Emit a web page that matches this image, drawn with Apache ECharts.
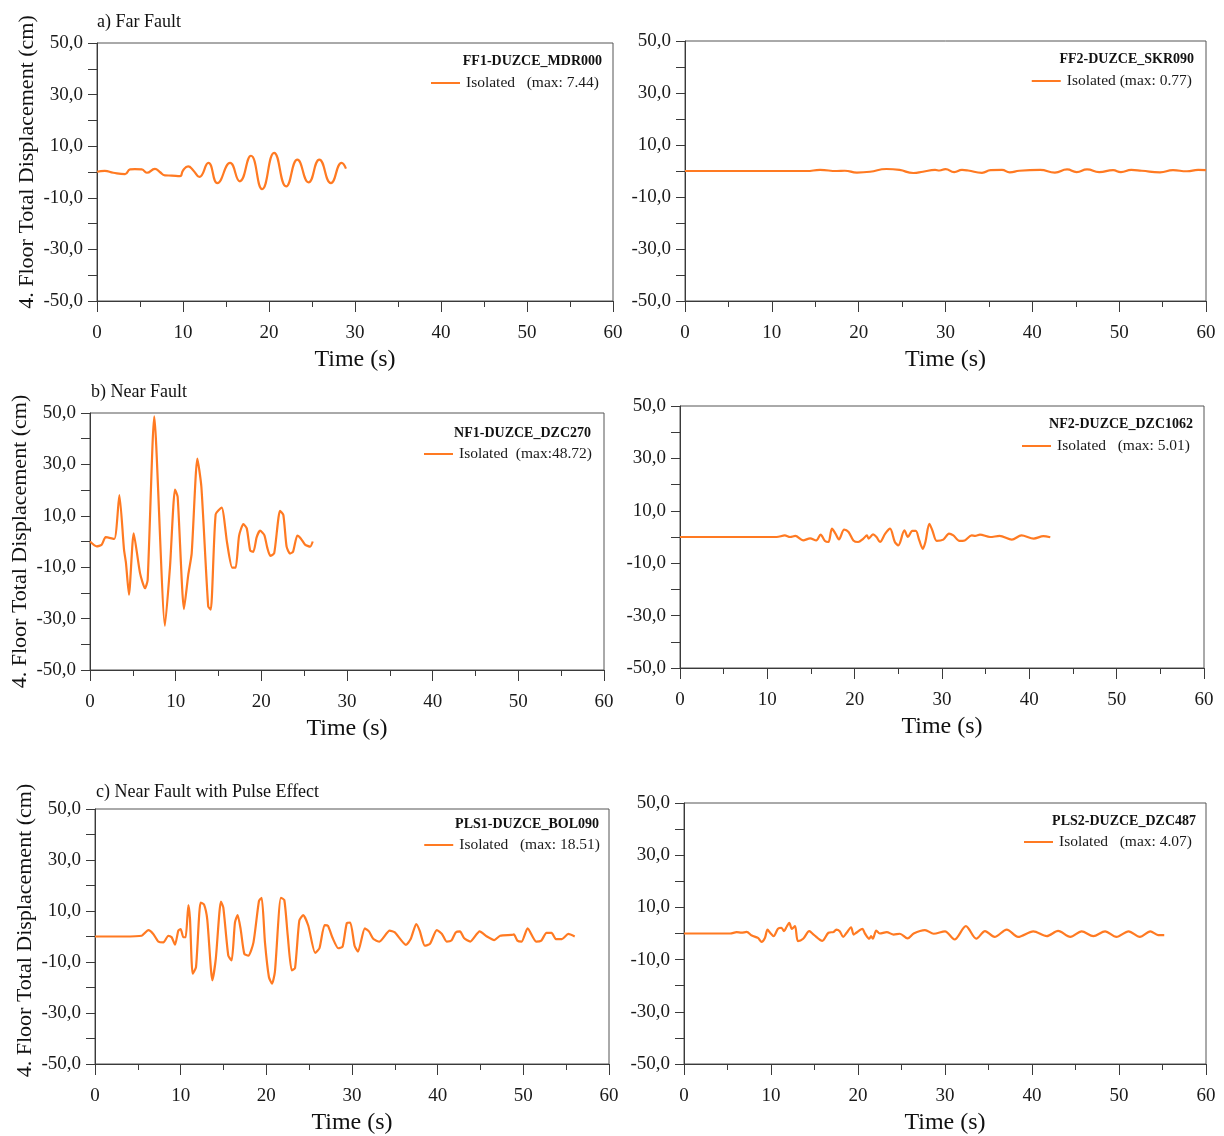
<!DOCTYPE html>
<html>
<head>
<meta charset="utf-8">
<script src="https://cdn.jsdelivr.net/npm/echarts@6/dist/echarts.min.js"></script>
<style>
  html, body { margin: 0; padding: 0; background: #fff; }
  #chart { width: 1224px; height: 1136px; }
</style>
</head>
<body>
<div id="chart"></div>
<script>
// Fourth-floor total displacement histories (cm) of the isolated building
// under six Düzce records. Time in seconds.

const ff1Time = [0, 0.9, 1.9, 3.26, 3.84, 4.4, 5.2, 5.8, 6.74, 7.3, 7.9, 8.7, 9.65, 10.0, 10.6, 11.2, 11.9, 12.95, 14.0, 15.47, 16.6, 17.9, 19.2, 20.6, 22.0, 23.3, 24.6, 25.85, 27.2, 28.45, 28.95];
const ff1Disp = [0.1, 0.4, -0.3, -0.8, 1.0, 1.1, 1.0, -0.3, 1.2, 0.0, -1.3, -1.4, -1.6, 0.6, 2.2, 0.6, -1.9, 3.5, -4.3, 3.5, -3.6, 6.3, -6.6, 7.44, -5.6, 4.8, -4.0, 4.8, -4.3, 3.5, 1.3];

const ff2Time = [0, 14.0, 15.55, 17.5, 18.4, 19.8, 21.3, 23.2, 24.7, 26.3, 27.4, 28.8, 29.3, 30.0, 31.0, 31.9, 32.6, 34.2, 35.2, 36.5, 37.4, 38.5, 40.9, 42.6, 44.0, 45.1, 46.3, 47.7, 49.3, 50.2, 51.4, 52.6, 54.7, 56.2, 57.8, 59.1, 60];
const ff2Disp = [0, 0, 0.4, 0, 0.1, -0.6, -0.3, 0.77, 0.4, -0.77, -0.3, 0.4, 0.2, 0.7, -0.4, 0.4, 0.2, -0.7, 0.3, 0.4, -0.5, 0.1, 0.4, -0.6, 0.6, -0.4, 0.6, -0.4, 0.3, -0.4, 0.4, 0.1, -0.5, 0.3, -0.1, 0.4, 0.3];

const nf1Time = [0, 0.78, 1.36, 1.83, 2.84, 3.43, 3.97, 4.2, 4.55, 5.1, 5.84, 6.42, 6.73, 7.5, 8.75, 9.34, 9.92, 10.23, 10.97, 11.47, 11.87, 12.53, 13.0, 13.8, 14.1, 14.67, 15.37, 16.0, 16.6, 17.0, 17.4, 17.9, 18.3, 18.7, 19.07, 19.45, 19.85, 20.35, 20.7, 21.05, 21.5, 22.18, 22.57, 22.95, 23.35, 23.7, 24.2, 24.6, 25.1, 25.7, 26.0];
const nf1Disp = [0, -1.9, -1.3, 1.7, 1.0, 18.1, -3.2, -8.4, -20.7, 3.2, -12.3, -18.2, -15.0, 48.72, -32.8, -9.8, 20.2, 17.4, -26.3, -13.0, -4.6, 32.3, 21.3, -25.3, -26.5, 10.6, 13.2, -0.5, -10.2, -10.2, 2.2, 6.8, 5.1, -3.5, -4.0, 1.6, 4.2, 2.5, -2.5, -5.6, -4.6, 11.9, 10.3, -2.0, -4.7, -4.0, 2.3, 1.2, -1.2, -2.0, 0];

const nf2Time = [0, 11.07, 12.0, 12.6, 13.2, 14.1, 14.9, 15.6, 16.1, 16.6, 17.0, 17.4, 17.8, 18.2, 18.8, 19.3, 19.85, 20.4, 21.0, 21.4, 21.6, 22.1, 22.5, 22.9, 23.5, 24.05, 24.6, 25.0, 25.7, 26.1, 26.6, 27.0, 27.4, 27.8, 28.1, 28.55, 28.9, 29.4, 30.15, 30.8, 31.3, 32.0, 32.6, 33.4, 33.8, 34.35, 35.5, 36.6, 38.0, 39.1, 40.5, 41.6, 42.4];
const nf2Disp = [0, 0, 0.6, 0, 0.4, -1.3, -0.5, -1.3, 0.9, -1.5, -1.9, 3.2, 1.3, -0.9, 2.8, 1.9, -1.3, -1.9, -0.6, 0.6, -0.6, 1.0, 0, -1.9, 1.3, 3.2, -1.9, -3.2, 2.5, 0, 2.3, 2.3, -1.3, -4.5, -1.9, 5.01, 2.5, -1.5, -1.0, 1.3, 0.6, -1.5, -1.3, 0.6, 0.4, 0.9, 0, 0.4, -1.0, 0.6, -0.6, 0.3, -0.1];

const pls1Time = [0, 3.3, 5.45, 6.23, 6.8, 7.4, 7.98, 8.56, 8.95, 9.34, 9.73, 10.0, 10.31, 10.58, 10.9, 11.09, 11.4, 11.79, 12.33, 12.72, 13.1, 13.7, 14.1, 14.7, 14.98, 15.56, 15.95, 16.34, 16.65, 17.0, 17.43, 17.9, 18.5, 19.14, 19.46, 19.84, 20.3, 20.66, 21.0, 21.7, 22.1, 22.5, 22.96, 23.35, 23.85, 24.3, 24.9, 25.7, 26.2, 26.8, 27.2, 27.7, 28.4, 28.9, 29.4, 29.8, 30.3, 30.7, 31.5, 32.0, 32.5, 33.2, 34.4, 35.0, 36.3, 36.85, 37.5, 37.9, 38.5, 39.1, 39.9, 40.5, 41.05, 41.6, 42.1, 42.6, 43.1, 43.8, 44.9, 45.7, 46.6, 47.3, 48.6, 48.9, 49.3, 49.8, 50.5, 51.5, 52.1, 52.7, 53.3, 53.8, 54.5, 55.25, 56.0];
const pls1Disp = [0, 0, 0.3, 2.5, 1.0, -2.0, -2.3, 0.3, -0.3, -3.2, 2.3, 2.9, -0.3, -0.3, 12.3, 6.8, -14.6, -12.0, 13.3, 12.6, 6.8, -17.2, -8.8, 13.7, 11.3, -7.5, -9.4, 5.5, 8.4, 2.9, -6.8, -7.5, -2.3, 13.9, 15.2, -2.3, -15.9, -18.51, -13.9, 15.2, 14.3, 0.3, -13.3, -12.4, 6.2, 8.4, 4.2, -6.4, -4.6, 4.5, 4.2, -0.3, -4.6, -4.0, 5.3, 5.5, -3.6, -5.9, 3.2, 1.9, -1.0, -2.0, 2.3, 1.6, -3.3, -1.0, 4.9, 2.3, -3.6, -2.9, 2.5, 1.0, -2.0, -1.6, 1.6, 2.0, -0.7, -2.0, 2.0, 0.1, -1.4, 0.3, 0.6, 0.8, -1.6, -2.0, 3.2, -2.0, -1.6, 1.4, 1.4, -1.0, -1.0, 1.0, 0];

const pls2Time = [0, 5.3, 6.05, 6.6, 7.2, 7.8, 8.5, 8.9, 9.3, 9.6, 9.9, 10.3, 10.8, 11.2, 11.5, 11.8, 12.1, 12.4, 12.76, 13.1, 13.7, 14.4, 14.9, 15.9, 16.6, 17.2, 17.5, 17.9, 18.3, 18.7, 19.2, 19.5, 19.8, 20.5, 20.8, 21.3, 21.5, 21.7, 22.1, 22.5, 23.3, 24.1, 24.8, 25.7, 26.4, 27.7, 28.7, 30.0, 31.1, 32.4, 33.6, 34.6, 35.7, 37.1, 38.4, 40.15, 41.7, 43.0, 44.4, 45.7, 47.05, 48.4, 49.7, 51.1, 52.4, 53.6, 54.5, 55.2];
const pls2Disp = [0, 0, 0.5, 0.3, 0.6, -0.8, -1.7, -3.2, -1.7, 1.5, 0.3, -1.0, 1.8, 2.2, 0.9, 2.6, 4.07, 1.8, 2.8, -2.9, -2.0, 0.9, -0.4, -2.8, 0.3, 0.6, 1.5, 0.9, -1.3, 0.3, 2.4, -0.4, 0.3, 1.8, 0, -2.0, -1.0, -2.0, 1.1, 0, 0.5, -0.4, -0.1, -1.9, 0, 1.3, -0.1, 0.8, -2.3, 2.8, -2.0, 0.9, -1.3, 1.5, -1.3, 0.8, -1.0, 1.0, -1.3, 0.8, -1.0, 0.8, -1.3, 0.8, -1.3, 0.8, -0.6, -0.6];

const recordNames = ['FF1-DUZCE_MDR000', 'FF2-DUZCE_SKR090', 'NF1-DUZCE_DZC270', 'NF2-DUZCE_DZC1062', 'PLS1-DUZCE_BOL090', 'PLS2-DUZCE_DZC487'];
const legendLabels = ['Isolated   (max: 7.44)', 'Isolated (max: 0.77)', 'Isolated  (max:48.72)', 'Isolated   (max: 5.01)', 'Isolated   (max: 18.51)', 'Isolated   (max: 4.07)'];
const groupTitles = ['a) Far Fault', 'b) Near Fault', 'c) Near Fault with Pulse Effect'];
const yTitle = '4. Floor Total Displacement (cm)';
const xTitle = 'Time (s)';

const times = [ff1Time, ff2Time, nf1Time, nf2Time, pls1Time, pls2Time];
const disps = [ff1Disp, ff2Disp, nf1Disp, nf2Disp, pls1Disp, pls2Disp];

// panel layout (pixels): plot box, header line and legend line positions
const panels = [
  { left: 97,  top: 43,  width: 516, height: 258, smooth: 0.5, headY: 62,  headR: 602,  legY: 84,  legR: 599,  yShift: 10 },
  { left: 685, top: 41,  width: 521, height: 260, smooth: 0.5, headY: 60,  headR: 1194, legY: 82,  legR: 1192, yShift: 0 },
  { left: 90,  top: 413, width: 514, height: 257, smooth: 0.2, headY: 434, headR: 591,  legY: 455, legR: 592,  yShift: 0 },
  { left: 680, top: 406, width: 524, height: 262, smooth: 0.3, headY: 425, headR: 1193, legY: 447, legR: 1190, yShift: 0 },
  { left: 95,  top: 809, width: 514, height: 257, smooth: 0.2, headY: 825, headR: 599,  legY: 846, legR: 600,  yShift: 6 },
  { left: 684, top: 803, width: 522, height: 261, smooth: 0.3, headY: 822, headR: 1196, legY: 843, legR: 1192, yShift: 0 }
];
const groupTitlePos = [[97, 20], [91, 390], [96, 790]];

const FONT = "'Liberation Serif', 'Times New Roman', serif";
const ORANGE = '#ff7a22';
const AXIS = '#3a3a3a';
const W = 1224;

const chart = echarts.init(document.getElementById('chart'), null, { renderer: 'canvas' });

const grid = [], xAxis = [], yAxis = [], series = [], legend = [], title = [];

panels.forEach((p, i) => {
  grid.push({
    left: p.left, top: p.top, width: p.width, height: p.height,
    show: true, borderColor: '#555', borderWidth: 1, backgroundColor: 'transparent'
  });
  xAxis.push({
    gridIndex: i, type: 'value', min: 0, max: 60, interval: 10,
    name: xTitle, nameLocation: 'middle', nameGap: 47,
    nameTextStyle: { fontFamily: FONT, fontSize: 24, color: '#111' },
    axisLine: { show: true, onZero: false, lineStyle: { color: AXIS, width: 1 } },
    axisTick: { show: true, length: 11, lineStyle: { color: AXIS } },
    minorTick: { show: true, splitNumber: 2, length: 6, lineStyle: { color: AXIS } },
    axisLabel: { fontFamily: FONT, fontSize: 19, color: '#1a1a1a', margin: 23 },
    splitLine: { show: false }
  });
  yAxis.push({
    gridIndex: i, type: 'value', min: -50, max: 50, interval: 20,
    name: i % 2 === 0 ? yTitle : '', nameLocation: 'middle', nameGap: 59,
    nameTextStyle: {
      fontFamily: FONT, fontSize: 22, color: '#111',
      padding: [0, 0, 0, 2 * p.yShift]
    },
    axisLine: { show: true, onZero: false, lineStyle: { color: AXIS, width: 1 } },
    axisTick: { show: true, length: 9, lineStyle: { color: AXIS } },
    minorTick: { show: true, splitNumber: 2, length: 9, lineStyle: { color: AXIS } },
    axisLabel: {
      fontFamily: FONT, fontSize: 19, color: '#1a1a1a', margin: 14,
      formatter: v => v.toFixed(1).replace('.', ',')
    },
    splitLine: { show: false }
  });
  series.push({
    name: legendLabels[i], type: 'line', xAxisIndex: i, yAxisIndex: i,
    data: times[i].map((t, k) => [t, disps[i][k]]),
    symbol: 'none', smooth: p.smooth,
    lineStyle: { color: ORANGE, width: 2.2 }, itemStyle: { color: ORANGE },
    silent: true, animation: false
  });
  legend.push({
    data: [legendLabels[i]], right: W - p.legR, top: p.legY - 9, padding: 0,
    icon: 'rect', itemWidth: 29, itemHeight: 2, itemGap: 6,
    textStyle: { fontFamily: FONT, fontSize: 15.5, color: '#1a1a1a', padding: [0, 0, 0, 1] },
    selectedMode: false
  });
  title.push({
    text: recordNames[i], right: W - p.headR, top: p.headY - 8, padding: 0,
    textStyle: { fontFamily: FONT, fontSize: 14, fontWeight: 'bold', color: '#111' }
  });
});

groupTitles.forEach((t, g) => {
  title.push({
    text: t, left: groupTitlePos[g][0], top: groupTitlePos[g][1] - 7, padding: 0,
    textStyle: { fontFamily: FONT, fontSize: 18, fontWeight: 'normal', color: '#111' }
  });
});

chart.setOption({
  backgroundColor: '#ffffff',
  animation: false,
  title, grid, xAxis, yAxis, series, legend
});
</script>
</body>
</html>
